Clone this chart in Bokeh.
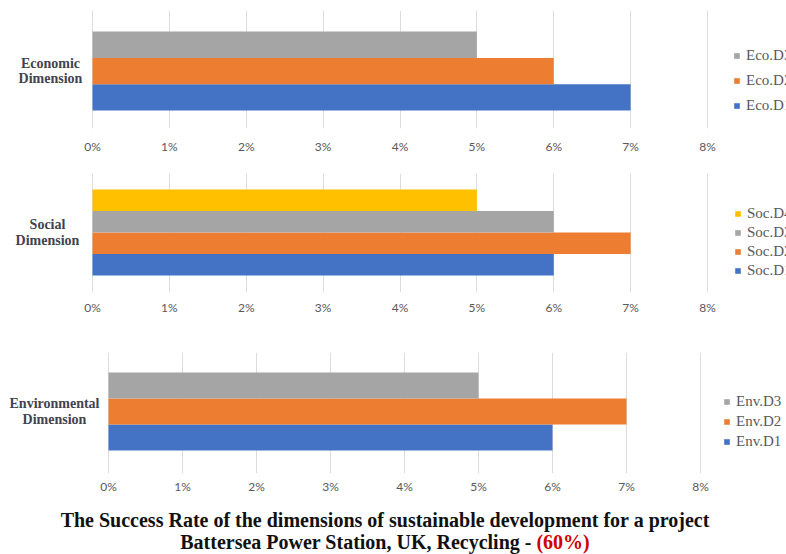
from bokeh.plotting import figure
from bokeh.models import (Range1d, FixedTicker, PrintfTickFormatter, Legend, LegendItem, Div, Label)
from bokeh.layouts import column
from bokeh.embed import file_html
from bokeh.resources import INLINE

# ---- data ----
ticks = [0, 1, 2, 3, 4, 5, 6, 7, 8]

eco_dimension = "Economic\nDimension"
eco_labels = ["Eco.D1", "Eco.D2", "Eco.D3"]
eco_values = [7, 6, 5]

soc_dimension = "Social\nDimension"
soc_labels = ["Soc.D1", "Soc.D2", "Soc.D3", "Soc.D4"]
soc_values = [6, 7, 6, 5]

env_dimension = "Environmental\nDimension"
env_labels = ["Env.D1", "Env.D2", "Env.D3"]
env_values = [6, 7, 5]

series_colors = ["#4472c4", "#ed7d31", "#a5a5a5", "#ffc000"]

title_line1 = "The Success Rate of the dimensions of sustainable development for a project"
title_line2 = "Battersea Power Station, UK, Recycling - "
title_rate = "(60%)"

W = 786


def panel(dim_label, labels, values, height, x0px, x8px, top, bottom,
          yr, tick_standoff, label_cx, leg_x, leg_y, leg_sp):
    unit = (x8px - x0px) / 8.0
    xr = Range1d(-x0px / unit, (W - x0px) / unit)
    p = figure(width=W, height=height, output_backend="svg", toolbar_location=None,
               x_range=xr, y_range=Range1d(*yr),
               min_border_left=0, min_border_right=0,
               min_border_top=top, min_border_bottom=bottom)
    p.outline_line_color = None
    p.background_fill_color = "white"
    p.border_fill_color = "white"
    items = []
    for i, (lab, val) in enumerate(zip(labels, values)):
        r = p.hbar(y=[i + 1], right=[val], left=0, height=1.0,
                   fill_color=series_colors[i], line_color=None)
        items.append(LegendItem(label=lab, renderers=[r]))
    items = items[::-1]
    leg = Legend(items=items, location=(leg_x, leg_y), orientation="vertical",
                 border_line_color=None, background_fill_alpha=0,
                 padding=0, margin=0, spacing=leg_sp, label_height=14,
                 glyph_width=7, glyph_height=7, label_standoff=6,
                 label_text_font="Liberation Serif", label_text_font_size="15px",
                 label_text_color="#595959")
    p.add_layout(leg, "center")

    # dimension label (category) on the left
    center_y = (1 + len(values)) / 2.0
    p.add_layout(Label(x=(label_cx - x0px) / unit, y=center_y, text=dim_label,
                       text_align="center", text_baseline="middle",
                       text_font="Liberation Serif", text_font_style="bold",
                       text_font_size="14px", text_color="#3f4350",
                       text_line_height=1.05))

    xa = p.xaxis[0]
    xa.ticker = FixedTicker(ticks=ticks)
    xa.formatter = PrintfTickFormatter(format="%d%%")
    xa.axis_line_color = None
    xa.major_tick_line_color = None
    xa.minor_tick_line_color = None
    xa.major_tick_out = 0
    xa.major_label_standoff = tick_standoff
    xa.major_label_text_font = "Lato"
    xa.major_label_text_font_size = "12px"
    xa.major_label_text_color = "#595959"

    p.yaxis.visible = False

    p.xgrid.ticker = FixedTicker(ticks=ticks)
    p.xgrid.grid_line_color = "#dcdcdc"
    p.ygrid.grid_line_color = None
    return p


p1 = panel(eco_dimension, eco_labels, eco_values, 160, 92, 707, 10, 32,
           (-0.18, 4.30), 10, 50, 733, 14, 8)
p2 = panel(soc_dimension, soc_labels, soc_values, 170, 92, 707, 13, 38,
           (-0.29, 5.24), 7, 47, 734, 13, 2)
p3 = panel(env_dimension, env_labels, env_values, 170, 108, 700, 22, 27,
           (-0.385, 4.27), 5, 54, 723, 23, 3)

title = Div(text=(
    '<div style="box-sizing:border-box;width:786px;padding-right:16px;text-align:center;'
    'font-family:\'Liberation Serif\';'
    'font-weight:bold;font-size:20px;line-height:22px;color:#111;padding-top:9px;">'
    + title_line1 + '<br>' + title_line2
    + '<span style="color:#d00000;">' + title_rate + '</span></div>'),
    width=786, height=54, margin=0)

layout = column(p1, p2, p3, title, spacing=0)

open("out.html", "w").write(file_html(layout, INLINE))
